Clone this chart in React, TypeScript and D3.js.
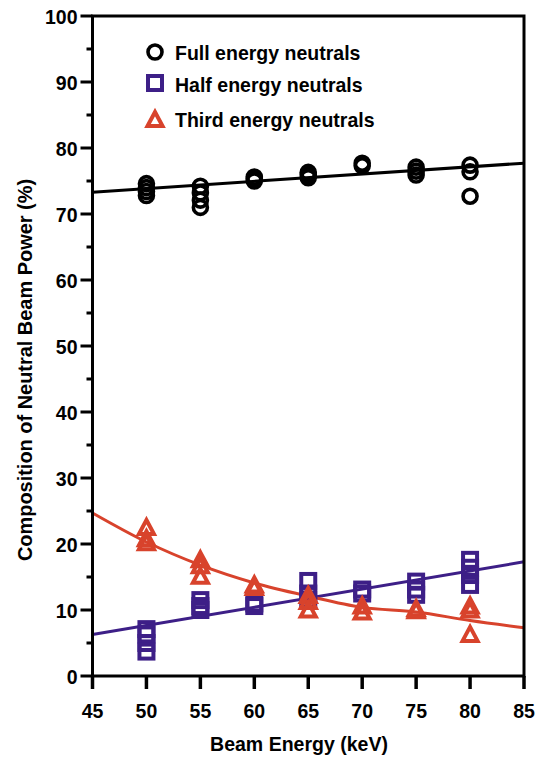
import React from 'react';
import * as d3 from 'd3';

// chart values
const xTicks = [45, 50, 55, 60, 65, 70, 75, 80, 85];
const yTicks = [0, 10, 20, 30, 40, 50, 60, 70, 80, 90, 100];
const yMinorTicks = [5, 15, 25, 35, 45, 55, 65, 75, 85, 95];

const fullEnergy = [50, 50, 50, 50, 55, 55, 55, 55, 60, 60, 60, 65, 65, 65, 70, 70, 75, 75, 75, 80, 80, 80];
const fullPower = [74.6, 74.0, 73.4, 72.8, 74.2, 73.2, 72.1, 71.0, 75.6, 75.3, 75.0, 76.3, 75.9, 75.5, 77.7, 77.3, 77.1, 76.5, 75.9, 77.4, 76.4, 72.7];

const halfEnergy = [50, 50, 50, 50, 55, 55, 55, 60, 60, 65, 65, 65, 70, 70, 75, 75, 75, 80, 80, 80, 80];
const halfPower = [7.1, 6.3, 5.0, 3.7, 11.5, 10.6, 10.0, 11.0, 10.6, 14.4, 12.5, 11.6, 13.1, 12.5, 14.3, 13.1, 12.3, 17.6, 16.4, 15.3, 13.8];

const thirdEnergy = [50, 50, 50, 55, 55, 55, 60, 60, 65, 65, 65, 70, 70, 75, 75, 80, 80, 80];
const thirdPower = [22.5, 20.8, 20.2, 17.6, 16.7, 15.1, 13.8, 13.4, 12.2, 11.3, 10.0, 10.6, 9.7, 10.2, 9.9, 10.6, 10.0, 6.3];

// fitted curves
const fullFitEnergy = [45, 85];
const fullFit = [73.3, 77.7];
const halfFitEnergy = [45, 85];
const halfFit = [6.3, 17.3];
const thirdFitEnergy = [45, 50, 55, 60, 65, 70, 75, 80, 85];
const thirdFit = [24.7, 20.3, 16.8, 14.1, 12.1, 10.4, 9.7, 8.4, 7.3];

const legendLabels = ['Full energy neutrals', 'Half energy neutrals', 'Third energy neutrals'];

const W = 543;
const H = 762;
const left = 92.5;
const right = 524;
const top = 16;
const bottom = 676;

const BLACK = '#000000';
const PURPLE = '#3d1f87';
const RED = '#d8432c';
const FONT = '"Liberation Sans", Arial, Helvetica, sans-serif';

const x = d3.scaleLinear().domain([45, 85]).range([left, right]);
const y = d3.scaleLinear().domain([0, 100]).range([bottom, top]);

const fitLine = (xs: number[], ys: number[], curve: d3.CurveFactory) =>
  d3
    .line<number>()
    .x(d => x(d))
    .y((d, i) => y(ys[i]))
    .curve(curve)(xs) || '';

// condensed bold text, like the original's typeface
const Label = ({ x: tx, y: ty, anchor = 'start', size = 21, sx = 0.93, rotate = 0, children }: any) => (
  <text
    transform={`translate(${tx},${ty}) rotate(${rotate}) scale(${sx},1)`}
    textAnchor={anchor}
    fontSize={size}
  >
    {children}
  </text>
);

const Circle = ({ cx, cy }: { cx: number; cy: number }) => (
  <circle cx={cx} cy={cy} r={7} fill="none" stroke={BLACK} strokeWidth={3.6} />
);
const Square = ({ cx, cy }: { cx: number; cy: number }) => (
  <rect x={cx - 7} y={cy - 7} width={14} height={14} fill="none" stroke={PURPLE} strokeWidth={4} />
);
const Triangle = ({ cx, cy }: { cx: number; cy: number }) => (
  <path
    d={`M${cx},${cy - 7.5}L${cx + 7.5},${cy + 6.5}L${cx - 7.5},${cy + 6.5}Z`}
    fill="none"
    stroke={RED}
    strokeWidth={4}
  />
);

export default function App() {
  return (
    <svg
      width={W}
      height={H}
      style={{ position: 'absolute', left: 0, top: 0, background: '#fff' }}
      fontFamily={FONT}
      fontWeight="bold"
    >
      {/* fits */}
      <path d={fitLine(fullFitEnergy, fullFit, d3.curveLinear)} fill="none" stroke={BLACK} strokeWidth={3} />
      <path d={fitLine(halfFitEnergy, halfFit, d3.curveLinear)} fill="none" stroke={PURPLE} strokeWidth={3} />
      <path d={fitLine(thirdFitEnergy, thirdFit, d3.curveMonotoneX)} fill="none" stroke={RED} strokeWidth={3} />

      {/* markers */}
      {fullEnergy.map((e, i) => (
        <Circle key={'f' + i} cx={x(e)} cy={y(fullPower[i])} />
      ))}
      {halfEnergy.map((e, i) => (
        <Square key={'h' + i} cx={x(e)} cy={y(halfPower[i])} />
      ))}
      {thirdEnergy.map((e, i) => (
        <Triangle key={'t' + i} cx={x(e)} cy={y(thirdPower[i])} />
      ))}

      {/* frame */}
      <rect x={left} y={top} width={right - left} height={bottom - top} fill="none" stroke={BLACK} strokeWidth={3} />

      {/* y axis */}
      {yTicks.map(t => (
        <g key={'y' + t}>
          <line x1={left - 12} x2={left} y1={y(t)} y2={y(t)} stroke={BLACK} strokeWidth={3} />
          <Label x={left - 15} y={y(t) + 7.5} anchor="end">
            {t}
          </Label>
        </g>
      ))}
      {yMinorTicks.map(t => (
        <line key={'ym' + t} x1={left - 6} x2={left} y1={y(t)} y2={y(t)} stroke={BLACK} strokeWidth={3} />
      ))}

      {/* x axis */}
      {xTicks.map(t => (
        <g key={'x' + t}>
          <line x1={x(t)} x2={x(t)} y1={bottom} y2={bottom + 13} stroke={BLACK} strokeWidth={3.5} />
          <Label x={x(t)} y={bottom + 42} anchor="middle">
            {t}
          </Label>
        </g>
      ))}

      <Label x={299} y={751} anchor="middle">
        Beam Energy (keV)
      </Label>
      <Label x={32} y={370} anchor="middle" rotate={-90} sx={0.95}>
        Composition of Neutral Beam Power (%)
      </Label>

      {/* legend */}
      <Circle cx={155} cy={52} />
      <Square cx={155} cy={83} />
      <Triangle cx={155} cy={119.5} />
      {legendLabels.map((l, i) => (
        <Label key={l} x={175} y={[60, 91.5, 127][i]}>
          {l}
        </Label>
      ))}
    </svg>
  );
}
